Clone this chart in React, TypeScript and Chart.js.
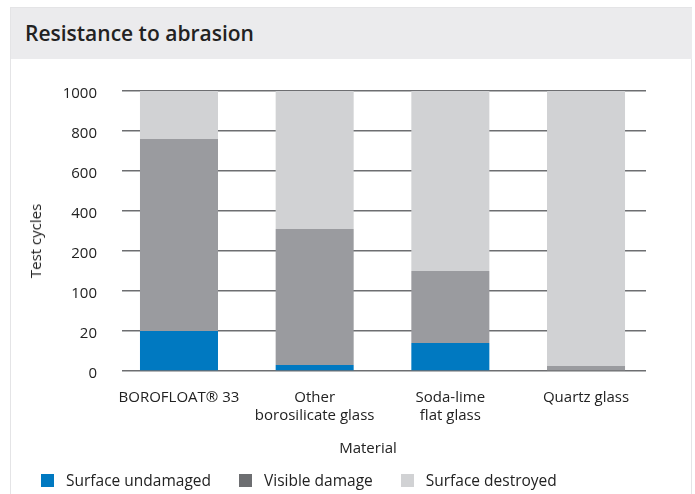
import React, { useEffect, useRef } from "react";
import { Chart, registerables } from "chart.js";

Chart.register(...registerables);

// ---- data ----
const categories: string[][] = [
  ["BOROFLOAT® 33"],
  ["Other", "borosilicate glass"],
  ["Soda-lime", "flat glass"],
  ["Quartz glass"],
];
// y axis is not linear: evenly spaced tick labels
const yTickLabels: number[] = [0, 20, 100, 200, 400, 600, 800, 1000];
// upper bound (test cycles) of each state
const surfaceUndamagedUpTo: number[] = [20, 3, 14, 0];
const visibleDamageUpTo: number[] = [760, 310, 150, 2.5];
const surfaceDestroyedUpTo: number[] = [1000, 1000, 1000, 1000];

const seriesNames: string[] = ["Surface undamaged", "Visible damage", "Surface destroyed"];
const barColors: string[] = ["#0079c1", "#9a9b9f", "#d1d2d4"];
const legendColors: string[] = ["#0079c1", "#6d6e71", "#d1d2d4"];

const FONT = "'Open Sans', 'Noto Sans', sans-serif";

// map test cycles onto evenly spaced tick positions
function toPos(v: number): number {
  for (let i = 0; i < yTickLabels.length - 1; i++) {
    const a = yTickLabels[i];
    const b = yTickLabels[i + 1];
    if (v <= b) return i + (v - a) / (b - a);
  }
  return yTickLabels.length - 1;
}

export default function App() {
  const canvasRef = useRef<HTMLCanvasElement | null>(null);

  useEffect(() => {
    if (!canvasRef.current) return;
    const undamaged = surfaceUndamagedUpTo.map((v, i) => ({ x: i, y: toPos(v) }));
    const visible = visibleDamageUpTo.map((v, i) => ({
      x: i,
      y: toPos(v) - toPos(surfaceUndamagedUpTo[i]),
    }));
    const destroyed = surfaceDestroyedUpTo.map((v, i) => ({
      x: i,
      y: toPos(v) - toPos(visibleDamageUpTo[i]),
    }));
    const chart = new Chart(canvasRef.current, {
      type: "bar",
      data: {
        datasets: [undamaged, visible, destroyed].map((d, k) => ({
          label: seriesNames[k],
          data: d,
          backgroundColor: barColors[k],
          borderWidth: 0,
          categoryPercentage: 1,
          barPercentage: 0.575,
        })),
      },
      options: {
        animation: false,
        responsive: true,
        maintainAspectRatio: false,
        layout: { padding: { top: 27, right: 49, left: 0, bottom: 0 } },
        plugins: { legend: { display: false }, tooltip: { enabled: false } },
        scales: {
          x: {
            type: "linear",
            stacked: true,
            offset: false,
            min: -0.42,
            max: 3.442,
            afterBuildTicks: (scale: any) => {
              scale.ticks = categories.map((_, i) => ({ value: i }));
            },
            afterFit: (scale: any) => {
              scale.height = 123;
            },
            grid: { display: false, drawTicks: false, offset: false },
            border: { display: false },
            ticks: {
              padding: 17,
              color: "#222",
              maxRotation: 0,
              autoSkip: false,
              font: { family: FONT, size: 15, lineHeight: 1.25 },
              callback: (v: any) => categories[Math.round(Number(v))] ?? "",
            },
          },
          y: {
            type: "linear",
            stacked: true,
            min: 0,
            max: yTickLabels.length - 1,
            afterFit: (scale: any) => {
              scale.width = 122;
            },
            grid: { color: "#6d6e71", lineWidth: 1.5, drawTicks: false },
            border: { display: false },
            ticks: {
              stepSize: 1,
              padding: 25,
              labelOffset: 3,
              color: "#222",
              font: { family: FONT, size: 15 },
              callback: (v: any) => String(yTickLabels[Math.round(Number(v))]),
            },
          },
        },
      },
    });
    return () => chart.destroy();
  }, []);

  const textStyle: React.CSSProperties = {
    fontFamily: FONT,
    fontSize: 15.5,
    color: "#222",
    whiteSpace: "nowrap",
  };

  return (
    <div
      style={{
        position: "fixed",
        left: 0,
        top: 0,
        width: 695,
        height: 494,
        overflow: "hidden",
        background: "#fff",
      }}
    >
      <div
        style={{
          position: "absolute",
          left: 10,
          top: 7,
          width: 682,
          height: 520,
          border: "1px solid #e4e4e6",
          boxSizing: "border-box",
        }}
      />
      <div
        style={{
          position: "absolute",
          left: 11,
          top: 8,
          width: 681,
          height: 51,
          background: "#ebebed",
        }}
      />
      <div
        style={{
          position: "absolute",
          left: 25,
          top: 8,
          height: 51,
          lineHeight: "51px",
          fontFamily: FONT,
          fontWeight: 600,
          fontSize: 21,
          color: "#222",
          whiteSpace: "nowrap",
        }}
      >
        Resistance to abrasion
      </div>
      <div style={{ position: "absolute", left: 0, top: 57, width: 695, height: 437 }}>
        <canvas ref={canvasRef} />
      </div>
      <div
        style={{
          ...textStyle,
          fontSize: 15,
          position: "absolute",
          left: 35,
          top: 241,
          transform: "translate(-50%, -50%) rotate(-90deg)",
        }}
      >
        Test cycles
      </div>
      <div
        style={{
          ...textStyle,
          fontSize: 15,
          position: "absolute",
          left: 368,
          top: 447,
          transform: "translate(-50%, -50%)",
        }}
      >
        Material
      </div>
      <div
        style={{
          position: "absolute",
          left: 41,
          top: 472,
          display: "flex",
          alignItems: "center",
          gap: 28,
        }}
      >
        {seriesNames.map((name, k) => (
          <div key={name} style={{ display: "flex", alignItems: "center" }}>
            <div style={{ width: 13, height: 13, background: legendColors[k], marginRight: 12 }} />
            <span style={{ ...textStyle, lineHeight: "17px" }}>{name}</span>
          </div>
        ))}
      </div>
    </div>
  );
}
